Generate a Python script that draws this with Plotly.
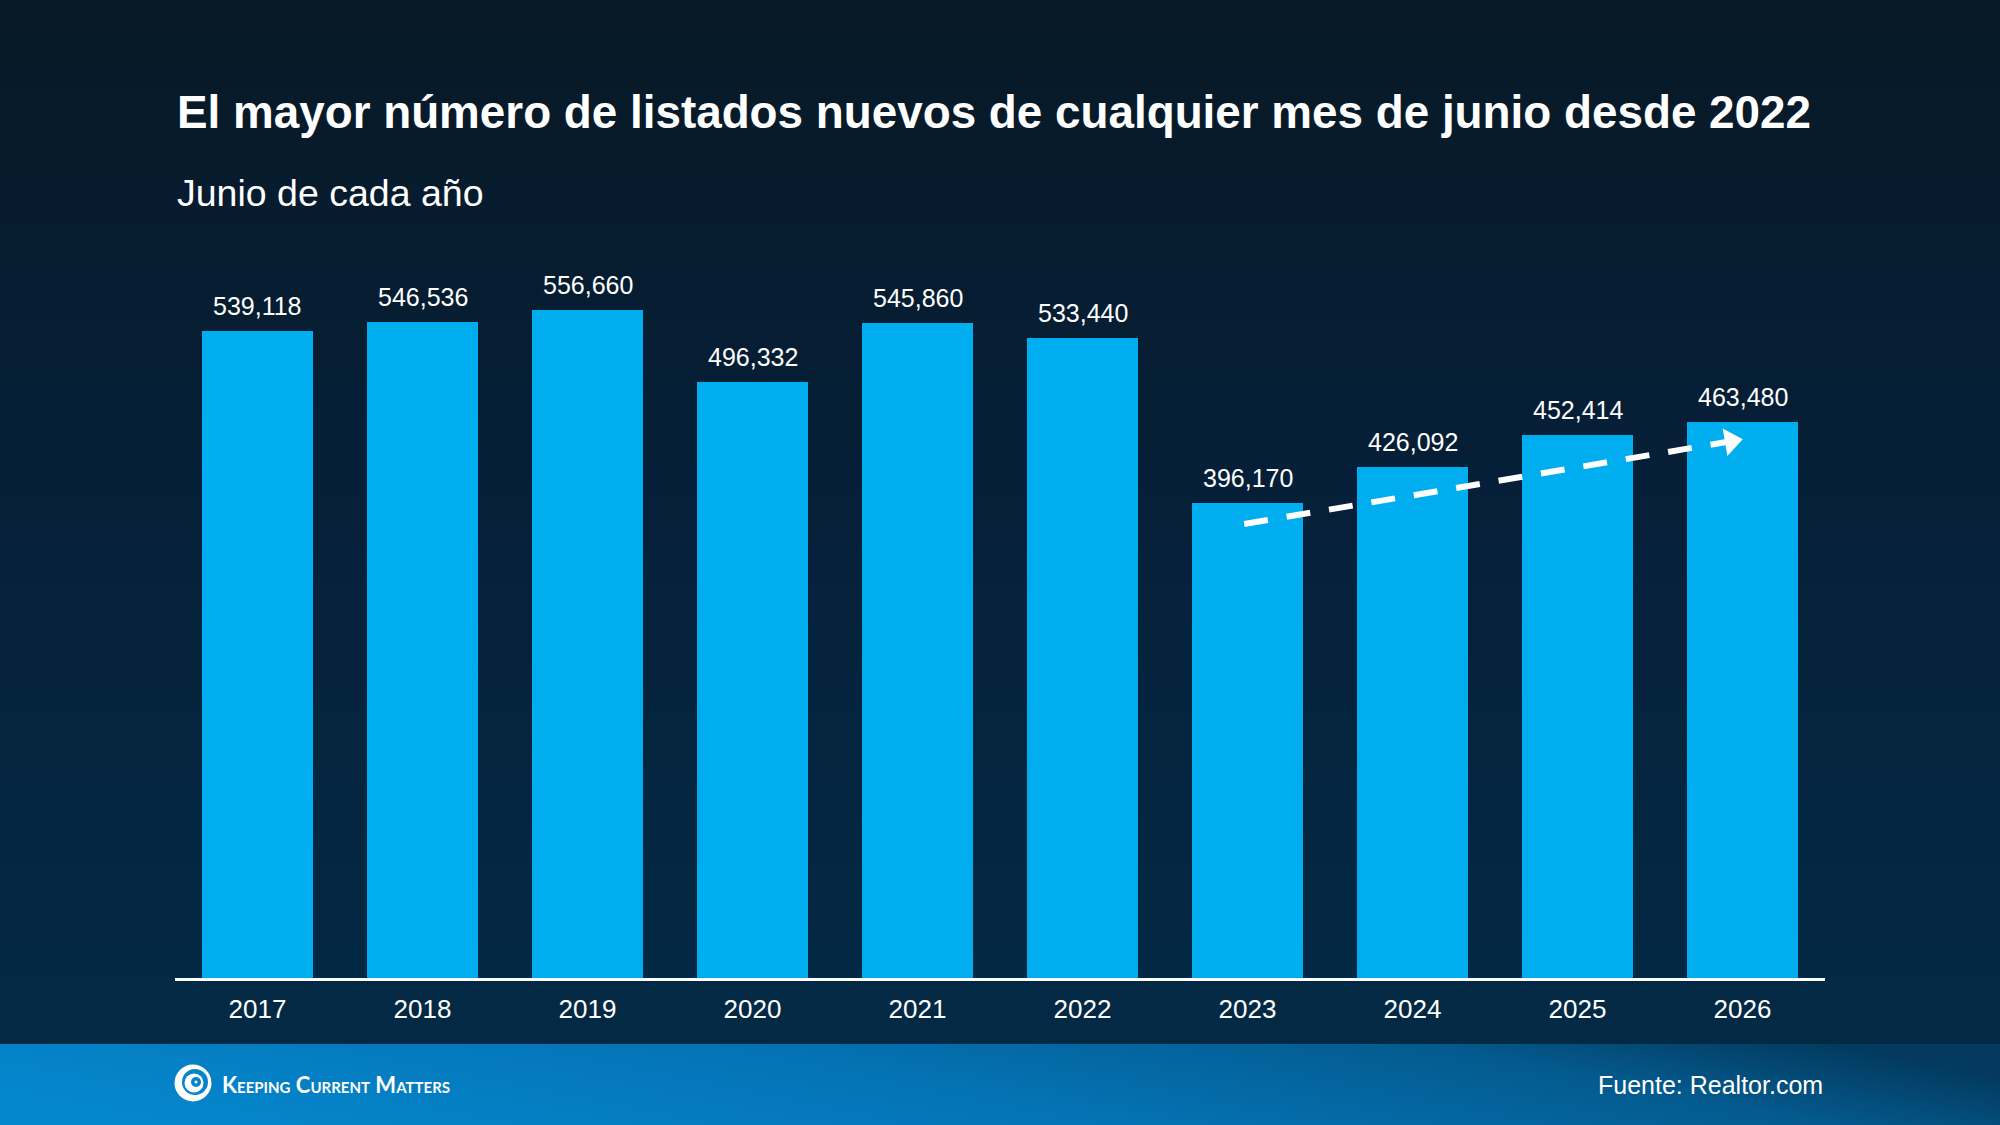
import base64
import plotly.graph_objects as go

# June new listings (Realtor.com)
years = ["2017", "2018", "2019", "2020", "2021", "2022", "2023", "2024", "2025", "2026"]
listings = [539118, 546536, 556660, 496332, 545860, 533440, 396170, 426092, 452414, 463480]

# dashed trend arrow over the last four bars (bar position, value)
trend_x = [5.98, 8.93]
trend_y = [378300, 447300]

title = "El mayor número de listados nuevos de cualquier mes de junio desde 2022"
subtitle = "Junio de cada año"
source = "Fuente: Realtor.com"
brand = "Keeping Current Matters"

W, H = 2000, 1125
L, R, T, B = 175, 175, 258, 147
FONT = "Liberation Sans, Arial, Helvetica, sans-serif"
BAR = "#00aeef"

pos = list(range(len(years)))


def px_x(px):
    return (px - L) / (W - L - R)


def px_y(py):
    return (H - B - py) / (H - T - B)


bg_svg = f"""<svg xmlns='http://www.w3.org/2000/svg' width='{W}' height='{H}' viewBox='0 0 {W} {H}' preserveAspectRatio='none'>
<defs>
<linearGradient id='g' x1='0' y1='0' x2='0' y2='1'>
<stop offset='0' stop-color='#071926'/><stop offset='0.5' stop-color='#06203a'/><stop offset='1' stop-color='#032a45'/>
</linearGradient>
<linearGradient id='f' x1='0' y1='0.6' x2='1' y2='0.4'>
<stop offset='0' stop-color='#0587cd'/><stop offset='0.45' stop-color='#0474b6'/><stop offset='0.8' stop-color='#045a8e'/><stop offset='1' stop-color='#033a5e'/>
</linearGradient>
</defs>
<rect x='0' y='0' width='{W}' height='1044' fill='url(#g)'/>
<rect x='0' y='1044' width='{W}' height='{H - 1044}' fill='url(#f)'/>
</svg>"""
bg_uri = "data:image/svg+xml;base64," + base64.b64encode(bg_svg.encode()).decode()

fig = go.Figure()

fig.add_trace(go.Bar(
    x=pos, y=listings, marker_color=BAR, marker_line_width=0,
    width=0.667, hoverinfo="skip",
))

fig.add_trace(go.Scatter(
    x=trend_x, y=trend_y, mode="lines",
    line=dict(color="white", width=6, dash="24px,19px"),
    hoverinfo="skip",
))
fig.add_trace(go.Scatter(
    x=[trend_x[-1]], y=[trend_y[-1]], mode="markers",
    marker=dict(symbol="triangle-right", size=24, angle=-9.6, color="white", line_width=0),
    hoverinfo="skip",
))

annotations = []
for i, v in zip(pos, listings):
    annotations.append(dict(
        x=i, y=v, text=f"{v:,}", showarrow=False, yanchor="bottom", yshift=9,
        font=dict(family=FONT, size=25, color="white"),
    ))

annotations += [
    dict(xref="paper", yref="paper", x=px_x(175), y=px_y(112), xanchor="left", yanchor="middle",
         text=f"<b>{title}</b>", showarrow=False,
         font=dict(family=FONT, size=45.8, color="white")),
    dict(xref="paper", yref="paper", x=px_x(175), y=px_y(193), xanchor="left", yanchor="middle",
         text=subtitle, showarrow=False,
         font=dict(family=FONT, size=37.5, color="white")),
    dict(xref="paper", yref="paper", x=px_x(1825), y=px_y(1085), xanchor="right", yanchor="middle",
         text=source, showarrow=False,
         font=dict(family=FONT, size=25, color="white")),
    dict(xref="paper", yref="paper", x=px_x(220), y=px_y(1084), xanchor="left", yanchor="middle",
         text=brand, showarrow=False,
         font=dict(family="Lato, sans-serif", size=22, color="white", weight=700,
                   variant="small-caps")),
]

# swirl logo
logo_cx, logo_cy = px_x(193), px_y(1083)
shapes = []
for dx, dy, r, col in [(0, 0, 18.5, "white"), (2, 1, 13, "#0585cb"), (1, 0, 9.5, "white"),
                       (3, 1, 5, "#0585cb"), (3, 1, 1.5, "white")]:
    shapes.append(dict(
        type="circle", xref="paper", yref="paper", xsizemode="pixel", ysizemode="pixel",
        xanchor=logo_cx, yanchor=logo_cy,
        x0=dx - r, x1=dx + r, y0=dy - r, y1=dy + r,
        fillcolor=col, line_width=0, layer="above",
    ))

fig.update_layout(
    width=W, height=H,
    margin=dict(l=L, r=R, t=T, b=B),
    paper_bgcolor="#06203a", plot_bgcolor="rgba(0,0,0,0)",
    showlegend=False,
    bargap=0,
    annotations=annotations,
    shapes=shapes,
    images=[dict(
        source=bg_uri, xref="paper", yref="paper",
        x=px_x(0), y=px_y(0), sizex=W / (W - L - R), sizey=H / (H - T - B),
        xanchor="left", yanchor="top", sizing="stretch", layer="below",
    )],
    xaxis=dict(
        range=[-0.5, 9.5], fixedrange=True,
        tickmode="array", tickvals=pos, ticktext=years,
        showgrid=False, zeroline=False,
        showline=True, linecolor="white", linewidth=3,
        ticks="", ticklabelstandoff=6,
        tickfont=dict(family=FONT, size=26, color="white"),
    ),
    yaxis=dict(range=[0, 600000], visible=False, fixedrange=True),
)

fig.write_html("out.html", config={"displayModeBar": False},
               post_script="document.body.style.margin='0';")
